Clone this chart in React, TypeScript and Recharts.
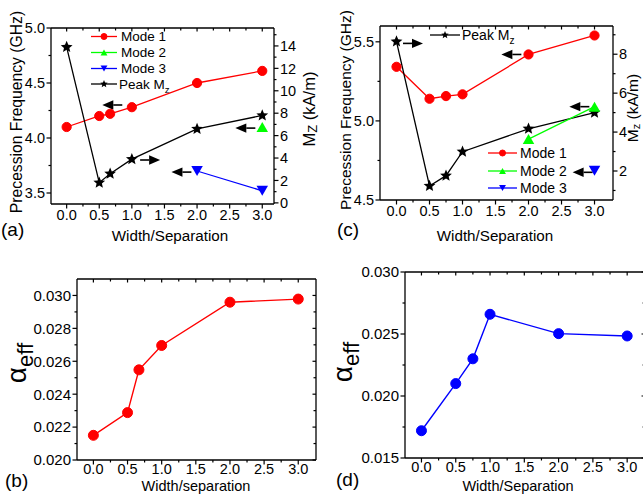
import React from 'react';
import { ComposedChart, Line, Scatter, XAxis, YAxis } from 'recharts';

const FONT = '"Liberation Sans", Arial, sans-serif';
const RED = '#ff0000';
const GREEN = '#00ff00';
const BLUE = '#0000ff';
const BLACK = '#000000';

// ---------- Panel (a) ----------
const aWidth = [0, 0.5, 0.667, 1, 2, 3];
const aMode1 = [4.1, 4.2, 4.22, 4.28, 4.5, 4.61];
const aMode2Width = [3];
const aMode2 = [4.1];
const aMode3Width = [2, 3];
const aMode3 = [3.7, 3.52];
const aPeakMz = [13.9, 1.8, 2.6, 3.9, 6.6, 7.8];
const aArrowX = [0.7, 1.28, 1.76, 2.74];
const aArrowY = [4.3, 3.8, 3.69, 4.09];
const aArrowDir = ['left', 'right', 'left', 'left'];

// ---------- Panel (c) ----------
const cWidth = [0, 0.5, 0.75, 1, 2, 3];
const cMode1 = [5.342, 5.14, 5.157, 5.168, 5.42, 5.54];
const cMode2Width = [2, 3];
const cMode2 = [4.885, 5.09];
const cMode3Width = [3];
const cMode3 = [4.685];
const cPeakMz = [8.65, 1.23, 1.76, 2.99, 4.17, 5.0];
const cArrowX = [0.25, 1.74, 2.77, 2.82];
const cArrowY = [5.49, 5.42, 5.09, 4.675];
const cArrowDir = ['right', 'left', 'left', 'left'];

// ---------- Panel (b) ----------
const bWidth = [0, 0.5, 0.667, 1, 2, 3];
const bAlpha = [0.0215, 0.02288, 0.02548, 0.02696, 0.02959, 0.02978];

// ---------- Panel (d) ----------
const dWidth = [0, 0.5, 0.75, 1, 2, 3];
const dAlpha = [0.0172, 0.021, 0.023, 0.02659, 0.02503, 0.02484];

// ---------- Ticks ----------
const xMajor = [0, 0.5, 1, 1.5, 2, 2.5, 3];
const xLabels = ['0.0', '0.5', '1.0', '1.5', '2.0', '2.5', '3.0'];
const xMinor = [0.25, 0.75, 1.25, 1.75, 2.25, 2.75];

const aYLMajor = [3.5, 4.0, 4.5, 5.0];
const aYLLabels = ['3.5', '4.0', '4.5', '5.0'];
const aYLMinor = [3.75, 4.25, 4.75];
const aYRMajor = [0, 2, 4, 6, 8, 10, 12, 14];
const aYRLabels = ['0', '2', '4', '6', '8', '10', '12', '14'];
const aYRMinor = [1, 3, 5, 7, 9, 11, 13, 15];

const cYLMajor = [4.5, 5.0, 5.5];
const cYLLabels = ['4.5', '5.0', '5.5'];
const cYLMinor = [4.75, 5.25];
const cYRMajor = [2, 4, 6, 8];
const cYRLabels = ['2', '4', '6', '8'];
const cYRMinor = [1, 3, 5, 7, 9];

const bYMajor = [0.02, 0.022, 0.024, 0.026, 0.028, 0.03];
const bYLabels = ['0.020', '0.022', '0.024', '0.026', '0.028', '0.030'];
const bYMinor = [0.021, 0.023, 0.025, 0.027, 0.029];

const dYMajor = [0.015, 0.02, 0.025, 0.03];
const dYLabels = ['0.015', '0.020', '0.025', '0.030'];
const dYMinor = [0.0175, 0.0225, 0.0275];

const CW = 700;
const CH = 494;

const rows = (xs: number[], ys: number[]) => xs.map((x, i) => ({ x, y: ys[i] }));
const arrowRows = (xs: number[], ys: number[], ds: string[]) =>
  xs.map((x, i) => ({ x, y: ys[i], dir: ds[i] }));

const isIn = (arr: number[], v: number) => arr.findIndex((m) => Math.abs(m - v) < 1e-9);

function mkBottomTick(majors: number[], labels: string[], plotH: number, fs: number, off: number) {
  return (p: any) => {
    const v = Number(p.payload.value);
    const i = isIn(majors, v);
    const major = i >= 0;
    const x = p.x;
    const y = p.y;
    return (
      <g>
        <line x1={x} x2={x} y1={y} y2={y + (major ? 4.5 : 2.5)} stroke={BLACK} strokeWidth={1.2} />
        <line x1={x} x2={x} y1={y - plotH} y2={y - plotH + (major ? 3.5 : 2.5)} stroke={BLACK} strokeWidth={1.2} />
        {major ? (
          <text x={x} y={y + off} textAnchor="middle" fontSize={fs} fontFamily={FONT} fill={BLACK}>
            {labels[i]}
          </text>
        ) : null}
      </g>
    );
  };
}

function mkLeftTick(majors: number[], labels: string[], plotW: number | null, fs: number) {
  return (p: any) => {
    const v = Number(p.payload.value);
    const i = isIn(majors, v);
    const major = i >= 0;
    const x = p.x;
    const y = p.y;
    return (
      <g>
        <line x1={x} x2={x - (major ? 4.5 : 2.5)} y1={y} y2={y} stroke={BLACK} strokeWidth={1.2} />
        {plotW != null ? (
          <line x1={x + plotW} x2={x + plotW - (major ? 3.5 : 2.5)} y1={y} y2={y} stroke={BLACK} strokeWidth={1.2} />
        ) : null}
        {major ? (
          <text x={x - 6} y={y} dy={fs * 0.36} textAnchor="end" fontSize={fs} fontFamily={FONT} fill={BLACK}>
            {labels[i]}
          </text>
        ) : null}
      </g>
    );
  };
}

function mkRightTick(majors: number[], labels: string[], fs: number) {
  return (p: any) => {
    const v = Number(p.payload.value);
    const i = isIn(majors, v);
    const major = i >= 0;
    const x = p.x;
    const y = p.y;
    return (
      <g>
        <line x1={x} x2={x + (major ? 4.5 : 2.5)} y1={y} y2={y} stroke={BLACK} strokeWidth={1.2} />
        {major ? (
          <text x={x + 6} y={y} dy={fs * 0.36} textAnchor="start" fontSize={fs} fontFamily={FONT} fill={BLACK}>
            {labels[i]}
          </text>
        ) : null}
      </g>
    );
  };
}

function starPoints(cx: number, cy: number, r: number) {
  const pts: string[] = [];
  for (let k = 0; k < 10; k++) {
    const ang = -Math.PI / 2 + (k * Math.PI) / 5;
    const rr = k % 2 === 0 ? r : r * 0.45;
    pts.push(`${cx + rr * Math.cos(ang)},${cy + rr * Math.sin(ang)}`);
  }
  return pts.join(' ');
}

function Marker({ kind, cx, cy, color, s }: { kind: string; cx: number; cy: number; color: string; s: number }) {
  if (kind === 'circle') return <circle cx={cx} cy={cy} r={s} fill={color} stroke={color} />;
  if (kind === 'up') {
    const w = s * 2.3;
    const h = s * 2.0;
    return <polygon points={`${cx},${cy - h / 2} ${cx - w / 2},${cy + h / 2} ${cx + w / 2},${cy + h / 2}`} fill={color} />;
  }
  if (kind === 'down') {
    const w = s * 2.3;
    const h = s * 2.0;
    return <polygon points={`${cx},${cy + h / 2} ${cx - w / 2},${cy - h / 2} ${cx + w / 2},${cy - h / 2}`} fill={color} />;
  }
  return <polygon points={starPoints(cx, cy, s * 1.35)} fill={color} />;
}

const dotFn = (kind: string, color: string, s: number) => (p: any) => {
  if (p.cx == null || p.cy == null) return <g key={p.index} />;
  return <Marker key={`d${p.index}`} kind={kind} cx={p.cx} cy={p.cy} color={color} s={s} />;
};

const arrowShape = (p: any) => {
  const cx = p.cx;
  const cy = p.cy;
  const s = p.payload && p.payload.dir === 'left' ? -1 : 1;
  const tip = cx + s * 10;
  const base = tip - s * 11;
  const tail = cx - s * 10;
  return (
    <g>
      <line x1={tail} y1={cy} x2={base} y2={cy} stroke={BLACK} strokeWidth={1.6} />
      <polygon points={`${tip},${cy} ${base},${cy - 4.7} ${base},${cy + 4.7}`} fill={BLACK} />
    </g>
  );
};

function margins(L: number, R: number, T: number, B: number) {
  return { left: L - 40, right: CW - R - 40, top: T - 1, bottom: CH - B - 20 };
}

const axisLine = { stroke: BLACK, strokeWidth: 1.3 };

function PanelA() {
  const L = 51, R = 274, T = 28, B = 204;
  const xd: [number, number] = [-0.24, 3.18];
  return (
    <ComposedChart width={CW} height={CH} margin={margins(L, R, T, B)}>
      <XAxis xAxisId="x" type="number" dataKey="x" domain={xd} allowDataOverflow ticks={[...xMajor, ...xMinor]} interval={0}
        tickSize={0} tickMargin={0} tickLine={false} axisLine={axisLine} height={20} tick={mkBottomTick(xMajor, xLabels, B - T, 14.5, 15.5)} />
      <XAxis xAxisId="top" orientation="top" type="number" domain={xd} allowDataOverflow height={1} tick={false} tickLine={false} axisLine={axisLine} />
      <YAxis yAxisId="l" orientation="left" type="number" domain={[3.4, 5.0]} allowDataOverflow ticks={[...aYLMajor, ...aYLMinor]} interval={0}
        tickSize={0} tickMargin={0} tickLine={false} axisLine={axisLine} width={40} tick={mkLeftTick(aYLMajor, aYLLabels, null, 14.5)} />
      <YAxis yAxisId="r" orientation="right" type="number" domain={[-0.1, 15.6]} allowDataOverflow ticks={[...aYRMajor, ...aYRMinor]} interval={0}
        tickSize={0} tickMargin={0} tickLine={false} axisLine={axisLine} width={40} tick={mkRightTick(aYRMajor, aYRLabels, 14.5)} />
      <Scatter xAxisId="x" yAxisId="l" data={arrowRows(aArrowX, aArrowY, aArrowDir)} dataKey="y" shape={arrowShape} isAnimationActive={false} />
      <Line xAxisId="x" yAxisId="l" data={rows(aWidth, aMode1)} dataKey="y" type="linear" stroke={RED} strokeWidth={1.3} dot={dotFn('circle', RED, 4.6)} activeDot={false} isAnimationActive={false} />
      <Line xAxisId="x" yAxisId="l" data={rows(aMode2Width, aMode2)} dataKey="y" type="linear" stroke={GREEN} strokeWidth={1.3} dot={dotFn('up', GREEN, 5)} activeDot={false} isAnimationActive={false} />
      <Line xAxisId="x" yAxisId="l" data={rows(aMode3Width, aMode3)} dataKey="y" type="linear" stroke={BLUE} strokeWidth={1.3} dot={dotFn('down', BLUE, 5)} activeDot={false} isAnimationActive={false} />
      <Line xAxisId="x" yAxisId="r" data={rows(aWidth, aPeakMz)} dataKey="y" type="linear" stroke={BLACK} strokeWidth={1.3} dot={dotFn('star', BLACK, 4.6)} activeDot={false} isAnimationActive={false} />
    </ComposedChart>
  );
}

function PanelC() {
  const L = 380, R = 613, T = 26, B = 200;
  const xd: [number, number] = [-0.25, 3.28];
  return (
    <ComposedChart width={CW} height={CH} margin={margins(L, R, T, B)}>
      <XAxis xAxisId="x" type="number" dataKey="x" domain={xd} allowDataOverflow ticks={[...xMajor, ...xMinor]} interval={0}
        tickSize={0} tickMargin={0} tickLine={false} axisLine={axisLine} height={20} tick={mkBottomTick(xMajor, xLabels, B - T, 14.5, 15.5)} />
      <XAxis xAxisId="top" orientation="top" type="number" domain={xd} allowDataOverflow height={1} tick={false} tickLine={false} axisLine={axisLine} />
      <YAxis yAxisId="l" orientation="left" type="number" domain={[4.5, 5.6]} allowDataOverflow ticks={[...cYLMajor, ...cYLMinor]} interval={0}
        tickSize={0} tickMargin={0} tickLine={false} axisLine={axisLine} width={40} tick={mkLeftTick(cYLMajor, cYLLabels, null, 14.5)} />
      <YAxis yAxisId="r" orientation="right" type="number" domain={[0.51, 9.45]} allowDataOverflow ticks={[...cYRMajor, ...cYRMinor]} interval={0}
        tickSize={0} tickMargin={0} tickLine={false} axisLine={axisLine} width={40} tick={mkRightTick(cYRMajor, cYRLabels, 14.5)} />
      <Scatter xAxisId="x" yAxisId="l" data={arrowRows(cArrowX, cArrowY, cArrowDir)} dataKey="y" shape={arrowShape} isAnimationActive={false} />
      <Line xAxisId="x" yAxisId="l" data={rows(cWidth, cMode1)} dataKey="y" type="linear" stroke={RED} strokeWidth={1.3} dot={dotFn('circle', RED, 4.6)} activeDot={false} isAnimationActive={false} />
      <Line xAxisId="x" yAxisId="r" data={rows(cWidth, cPeakMz)} dataKey="y" type="linear" stroke={BLACK} strokeWidth={1.3} dot={dotFn('star', BLACK, 4.6)} activeDot={false} isAnimationActive={false} />
      <Line xAxisId="x" yAxisId="l" data={rows(cMode2Width, cMode2)} dataKey="y" type="linear" stroke={GREEN} strokeWidth={1.3} dot={dotFn('up', GREEN, 5)} activeDot={false} isAnimationActive={false} />
      <Line xAxisId="x" yAxisId="l" data={rows(cMode3Width, cMode3)} dataKey="y" type="linear" stroke={BLUE} strokeWidth={1.3} dot={dotFn('down', BLUE, 5)} activeDot={false} isAnimationActive={false} />
    </ComposedChart>
  );
}

function AlphaPanel({ L, R, T, B, yd, yMajor, yLabels, yMinor, xs, ys, color }: any) {
  const xd: [number, number] = [-0.24, 3.26];
  return (
    <ComposedChart width={CW} height={CH} margin={margins(L, R, T, B)}>
      <XAxis xAxisId="x" type="number" dataKey="x" domain={xd} allowDataOverflow ticks={[...xMajor, ...xMinor]} interval={0}
        tickSize={0} tickMargin={0} tickLine={false} axisLine={axisLine} height={20} tick={mkBottomTick(xMajor, xLabels, B - T, 14.5, 14)} />
      <XAxis xAxisId="top" orientation="top" type="number" domain={xd} allowDataOverflow height={1} tick={false} tickLine={false} axisLine={axisLine} />
      <YAxis yAxisId="l" orientation="left" type="number" domain={yd} allowDataOverflow ticks={[...yMajor, ...yMinor]} interval={0}
        tickSize={0} tickMargin={0} tickLine={false} axisLine={axisLine} width={40} tick={mkLeftTick(yMajor, yLabels, R - L, 15)} />
      <YAxis yAxisId="r" orientation="right" type="number" domain={yd} allowDataOverflow width={40} tick={false} tickLine={false} axisLine={axisLine} />
      <Line xAxisId="x" yAxisId="l" data={rows(xs, ys)} dataKey="y" type="linear" stroke={color} strokeWidth={1.4} dot={dotFn('circle', color, 5)} activeDot={false} isAnimationActive={false} />
    </ComposedChart>
  );
}

function LegendRow({ x1, x2, y, kind, color, label, sub, fs, tx }: any) {
  const mx = (x1 + x2) / 2;
  return (
    <g>
      <line x1={x1} x2={x2} y1={y} y2={y} stroke={color} strokeWidth={1.3} />
      <Marker kind={kind} cx={mx} cy={y} color={color} s={kind === 'star' ? 2.9 : 3} />
      <text x={tx} y={y + fs * 0.36} fontSize={fs} fontFamily={FONT} fill={BLACK}>
        {label}
        {sub ? (
          <tspan fontSize={fs * 0.72} dy={fs * 0.28}>
            {sub}
          </tspan>
        ) : null}
      </text>
    </g>
  );
}

function Overlay() {
  const t = { fontFamily: FONT, fill: BLACK } as any;
  return (
    <svg width={643} height={494} style={{ position: 'absolute', left: 0, top: 0 }}>
      {/* legends (a) */}
      <LegendRow x1={91} x2={117} y={36.5} kind="circle" color={RED} label="Mode 1" fs={13.5} tx={121} />
      <LegendRow x1={91} x2={117} y={52.5} kind="up" color={GREEN} label="Mode 2" fs={13.5} tx={121} />
      <LegendRow x1={91} x2={117} y={68.5} kind="down" color={BLUE} label="Mode 3" fs={13.5} tx={121} />
      <LegendRow x1={91} x2={117} y={84} kind="star" color={BLACK} label="Peak M" sub="z" fs={13.5} tx={119} />
      {/* legends (c) */}
      <LegendRow x1={430} x2={460} y={35} kind="star" color={BLACK} label="Peak M" sub="z" fs={14} tx={462} />
      <LegendRow x1={488} x2={517} y={153} kind="circle" color={RED} label="Mode 1" fs={14} tx={520} />
      <LegendRow x1={488} x2={517} y={171} kind="up" color={GREEN} label="Mode 2" fs={14} tx={520} />
      <LegendRow x1={488} x2={517} y={188} kind="down" color={BLUE} label="Mode 3" fs={14} tx={520} />

      {/* axis titles */}
      <text {...t} x={22} y={112} fontSize={15.7} textAnchor="middle" transform="rotate(-90 22 112)">Precession Frequency (GHz)</text>
      <text {...t} x={351} y={110} fontSize={15.5} textAnchor="middle" transform="rotate(-90 351 110)">Precession Frequency (GHz)</text>
      <text {...t} x={315} y={109} fontSize={16.5} textAnchor="middle" transform="rotate(-90 315 109)">
        M<tspan fontSize={13} dy={2}>Z</tspan>
        <tspan dy={-2}> (kA/m)</tspan>
      </text>
      <text {...t} x={637.5} y={108} fontSize={15.5} textAnchor="middle" transform="rotate(-90 637.5 108)">
        M<tspan fontSize={11} dy={2.5}>z</tspan>
        <tspan dy={-2.5}> (kA/m)</tspan>
      </text>
      <text {...t} x={26} y={363} fontSize={28} textAnchor="middle" transform="rotate(-90 26 363)">
        α<tspan fontSize={22} dy={7}>eff</tspan>
      </text>
      <text {...t} x={352} y={362} fontSize={28} textAnchor="middle" transform="rotate(-90 352 362)">
        α<tspan fontSize={22} dy={7}>eff</tspan>
      </text>
      <text {...t} x={170} y={241} fontSize={15.2} textAnchor="middle">Width/Separation</text>
      <text {...t} x={495} y={241} fontSize={15.2} textAnchor="middle">Width/Separation</text>
      <text {...t} x={196} y={490.5} fontSize={14.5} textAnchor="middle">Width/separation</text>
      <text {...t} x={518} y={490.5} fontSize={14.5} textAnchor="middle">Width/Separation</text>

      {/* panel labels */}
      <text {...t} x={1} y={236} fontSize={19}>(a)</text>
      <text {...t} x={337} y={236} fontSize={19}>(c)</text>
      <text {...t} x={5} y={487} fontSize={19}>(b)</text>
      <text {...t} x={336} y={486} fontSize={19}>(d)</text>
    </svg>
  );
}

export default function App() {
  const abs = { position: 'absolute', left: 0, top: 0 } as any;
  return (
    <div style={{ position: 'absolute', left: 0, top: 0, width: 643, height: 494, overflow: 'hidden', background: '#fff' }}>
      <div style={abs}><PanelA /></div>
      <div style={abs}><PanelC /></div>
      <div style={abs}>
        <AlphaPanel L={77} R={316} T={279} B={460} yd={[0.02, 0.031]} yMajor={bYMajor} yLabels={bYLabels} yMinor={bYMinor} xs={bWidth} ys={bAlpha} color={RED} />
      </div>
      <div style={abs}>
        <AlphaPanel L={405} R={645} T={272} B={458} yd={[0.015, 0.03]} yMajor={dYMajor} yLabels={dYLabels} yMinor={dYMinor} xs={dWidth} ys={dAlpha} color={BLUE} />
      </div>
      <Overlay />
    </div>
  );
}
